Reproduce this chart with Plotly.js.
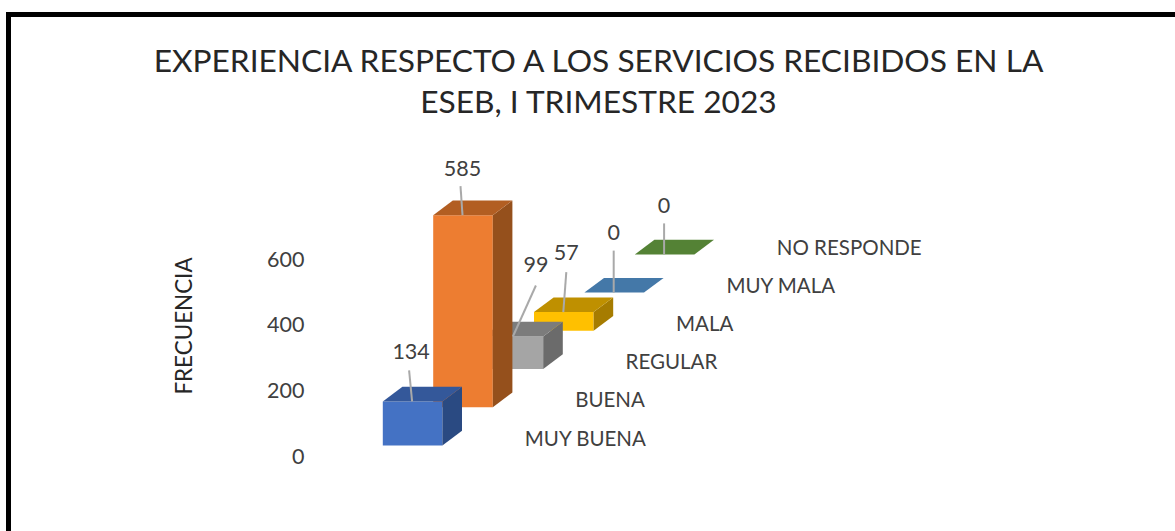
<!DOCTYPE html>
<html>
<head>
<meta charset="utf-8">
<script src="https://cdn.plot.ly/plotly-3.0.1.min.js"></script>
<style>html,body{margin:0;padding:0;background:#fff;overflow:hidden}#chart{width:1175px;height:531px}</style>
</head>
<body>
<div id="chart"></div>
<script>
// Data
const categories = ["MUY BUENA", "BUENA", "REGULAR", "MALA", "MUY MALA", "NO RESPONDE"];
const frequencies = [134, 585, 99, 57, 0, 0];
const yTicks = [0, 200, 400, 600];

// Colours per category
const frontColors = ["#4472C4", "#ED7D31", "#A5A5A5", "#FFC000", "#4478A8", "#548235"];
const sideColors  = ["#2A4A82", "#95501C", "#6B6B6B", "#A67C00", "#4478A8", "#548235"];
const topColors   = ["#34589A", "#B25E22", "#7C7C7C", "#BF9000", "#4478A8", "#548235"];

// Oblique projection of the 3D column layout, in pixel scale factors
const W = 1175, H = 531;
const pxPerCat = 50.4, pxPerVal = 0.3283;
const firstBarPx = 382.8, zeroPx = 456, plotTopPx = 121;
const xRange = [-firstBarPx / pxPerCat, (W - firstBarPx) / pxPerCat];
const yRange = [-(H - zeroPx) / pxPerVal, (zeroPx - plotTopPx) / pxPerVal];
const px = p => p / pxPerCat, pv = p => p / pxPerVal;
const barW = px(59.6), depthX = px(19.6), depthY = pv(14.7);
const baseStep = pv(38.2), firstBase = pv(10.6);

// Leader-line ends and label centres relative to the centre of a bar's top edge, pixels
const leaderEnd = [[-3,-31],[-2,-29],[23,-51],[3,-40],[0,-42],[0,-31]];
const labelAt   = [[-1,-48],[0,-45],[23,-70],[3,-57],[0,-58],[0,-47]];

const font = "Lato, 'Open Sans', sans-serif";
const traces = [];
function face(xs, ys, color) {
  traces.push({type:"scatter", mode:"lines", x:xs, y:ys, fill:"toself", fillcolor:color,
    line:{width:0, color:color}, hoverinfo:"skip", showlegend:false});
}
for (let i = categories.length - 1; i >= 0; i--) {
  const x0 = i, x1 = i + barW;
  const b = firstBase + i * baseStep, t = b + frequencies[i];
  if (frequencies[i] > 0) {
    face([x0,x1,x1,x0,x0],[b,b,t,t,b],frontColors[i]);
    face([x1,x1+depthX,x1+depthX,x1,x1],[b,b+depthY,t+depthY,t,b],sideColors[i]);
  }
  face([x0,x1,x1+depthX,x0+depthX,x0],[t,t,t+depthY,t+depthY,t],topColors[i]);
}
categories.forEach((c,i) => {
  const cx = i + barW/2 - px(0.5), t = firstBase + i*baseStep + frequencies[i];
  traces.push({type:"scatter", mode:"lines",
    x:[cx, cx + px(leaderEnd[i][0])], y:[t, t - pv(leaderEnd[i][1])],
    line:{color:"#A9A9A9", width:2}, hoverinfo:"skip", showlegend:false});
});
traces.push({type:"scatter", mode:"text",
  x:categories.map((c,i)=> i + barW/2 - px(0.5) + px(labelAt[i][0])),
  y:categories.map((c,i)=> firstBase + i*baseStep + frequencies[i] - pv(labelAt[i][1])),
  text:frequencies.map(String), textposition:"middle center",
  textfont:{family:font, size:21.5, color:"#404040"},
  hoverinfo:"skip", showlegend:false});
traces.push({type:"scatter", mode:"text",
  x:categories.map((c,i)=> i + px(142)),
  y:categories.map((c,i)=> firstBase + i*baseStep - pv(-5)),
  text:categories, textposition:"middle right",
  textfont:{family:font, size:20.5, color:"#404040"},
  hoverinfo:"skip", showlegend:false});

const layout = {
  width:W, height:H, margin:{l:0,r:0,t:0,b:0,pad:0},
  paper_bgcolor:"#fff", plot_bgcolor:"rgba(0,0,0,0)", showlegend:false,
  title:{text:"EXPERIENCIA RESPECTO A LOS SERVICIOS RECIBIDOS EN LA<br>ESEB, I TRIMESTRE 2023",
    font:{family:font, size:31.7, color:"#262626"},
    x:598.5/W, xanchor:"center", y:1-72/H, yanchor:"middle"},
  xaxis:{range:xRange, visible:false, fixedrange:true},
  yaxis:{range:yRange, domain:[0,(H-plotTopPx)/H], anchor:"free", position:304.5/W, tickmode:"array", tickvals:yTicks,
    ticks:"", showgrid:false, zeroline:false, showline:false, fixedrange:true,
    tickfont:{family:font, size:21.5, color:"#404040"},
    title:{text:"FRECUENCIA", standoff:67, font:{family:font, size:22.4, color:"#262626"}}},
  shapes:[
    {type:"line", xref:"paper", yref:"paper", x0:6/W, x1:1, y0:1-14.5/H, y1:1-14.5/H, line:{color:"#000",width:5}},
    {type:"line", xref:"paper", yref:"paper", x0:8.5/W, x1:8.5/W, y0:1-12/H, y1:0, line:{color:"#000",width:5}}
  ]
};
Plotly.newPlot("chart", traces, layout, {staticPlot:true, displayModeBar:false});
</script>
</body>
</html>
